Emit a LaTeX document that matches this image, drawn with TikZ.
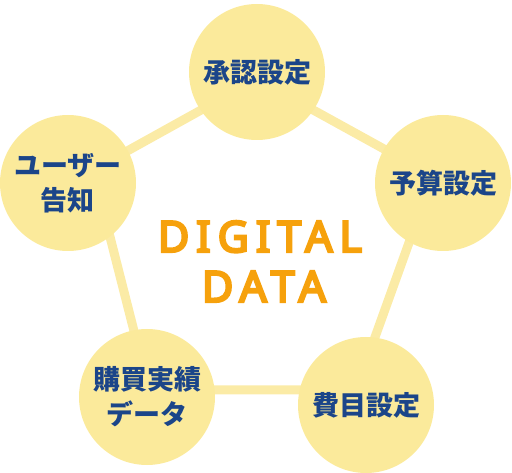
\documentclass[tikz,border=0pt]{standalone}
\usepackage{fontspec}
\newfontfamily\jp{Noto Sans CJK JP}
\newfontfamily\lat{Noto Sans}[FakeBold=5.5,LetterSpace=16]
\definecolor{circfill}{HTML}{FBEA9B}
\definecolor{linecol}{HTML}{FBEBA6}
\definecolor{navy}{HTML}{1B4589}
\definecolor{orangetxt}{HTML}{F6A10C}
\tikzset{
  bubble/.style={circle, fill=circfill, minimum size=136pt, inner sep=0pt,
    text=navy, align=center, font=\jp\bfseries\fontsize{27}{35}\selectfont},
  link/.style={draw=linecol, line width=9pt},
  bigword/.style={text=orangetxt, inner sep=0pt, anchor=base,
    font=\lat\fontsize{43}{43}\selectfont}
}
\begin{document}
\begin{tikzpicture}[x=1pt,y=-1pt]
\useasboundingbox (0,0) rectangle (512,473);
\coordinate (vT) at (257,79);
\coordinate (vR) at (433,176);
\coordinate (vBR) at (356,390);
\coordinate (vBL) at (149,390);
\coordinate (vL) at (93,170);
\draw[link] (vT) -- (vR) -- (vBR) -- (vBL) -- (vL) -- cycle;
\node[bubble] (approve) at (257,72) {承認設定};
\node[bubble] (budget) at (443,183) {予算設定};
\node[bubble] (expense) at (366,405) {費目設定};
\node[bubble] (purchase) at (147,397) {購買実績\\データ};
\node[bubble] (notify) at (68,183) {ユーザー\\告知};
\node[bigword] (digital) at (260,252) {DIGITAL};
\node[bigword] (data) at (264,302) {DATA};
\end{tikzpicture}
\end{document}
